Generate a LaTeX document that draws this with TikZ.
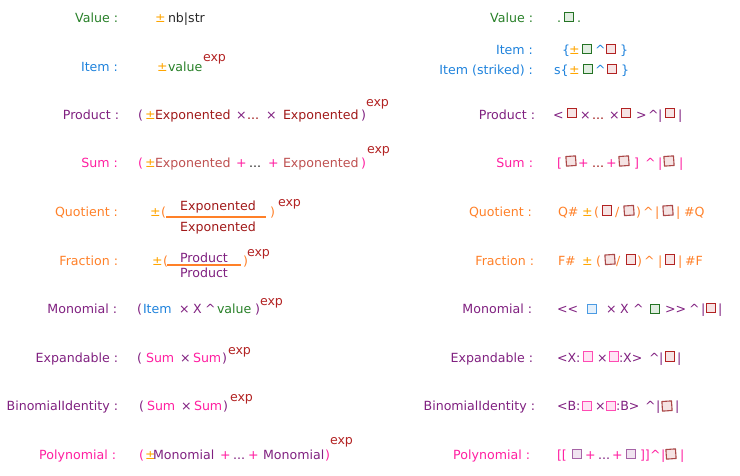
\documentclass[tikz,border=0pt]{standalone}
\usepackage{fontspec}
\setmainfont{DejaVu Sans}
\definecolor{cV}{RGB}{40,128,40}
\definecolor{cI}{RGB}{30,130,220}
\definecolor{cP}{RGB}{128,32,128}
\definecolor{cS}{RGB}{255,30,160}
\definecolor{cQ}{RGB}{255,128,40}
\definecolor{cX}{RGB}{178,34,34}
\definecolor{cE}{RGB}{160,24,24}
\definecolor{cEs}{RGB}{190,80,80}
\definecolor{cPM}{RGB}{255,165,0}
\definecolor{cN}{RGB}{40,40,40}
\newcommand\fsz{\fontsize{12.6}{14}\selectfont}
\tikzset{
 tx/.style={anchor=base west, inner sep=0pt, outer sep=0pt, font=\fsz},
 lab/.style={anchor=base east, inner sep=0pt, outer sep=0pt, font=\fsz},
 ctr/.style={anchor=base, inner sep=0pt, outer sep=0pt, font=\fsz},
 box/.style={draw, line width=1.1pt, minimum size=9.6pt, inner sep=0pt},
 bG/.style={box, draw=cV!90!black, fill=cV!14},
 bR/.style={box, draw=cX, fill=cX!12},
 bS/.style={box, draw=cEs!90!black, fill=cEs!16, rotate=4},
 bB/.style={box, draw=cI!80, fill=cI!12},
 bK/.style={box, draw=cS!80, fill=cS!12},
 bM/.style={box, draw=cP!70, fill=cP!12},
 bar/.style={cQ, line width=1.5pt},
}
\begin{document}
\begin{tikzpicture}[x=1pt,y=-1pt]
\useasboundingbox (0,0) rectangle (740,475);
% ---------------- left labels
\node[lab,text=cV] (lv) at (118,22) {Value :};
\node[lab,text=cI] (li) at (118,71) {Item :};
\node[lab,text=cP] (lp) at (119,119) {Product :};
\node[lab,text=cS] (ls) at (118,167) {Sum :};
\node[lab,text=cQ] (lq) at (118,216) {Quotient :};
\node[lab,text=cQ] (lf) at (118,265) {Fraction :};
\node[lab,text=cP] (lm) at (117,313) {Monomial :};
\node[lab,text=cP] (le) at (118,362) {Expandable :};
\node[lab,text=cP] (lb) at (118,410) {BinomialIdentity :};
\node[lab,text=cS] (ly) at (116,459) {Polynomial :};
% ---------------- left content
% Value
\node[tx,text=cPM] (v1) at (155,22) {±};
\node[tx,text=cN] (v2) at (168,22) {nb|str};
% Item
\node[tx,text=cPM] (i1) at (157,71) {±};
\node[tx,text=cV] (i2) at (168,71) {value};
\node[tx,text=cX] (i3) at (203,61) {exp};
% Product
\node[tx,text=cP] (p1) at (138,119) {(};
\node[tx,text=cPM] (p2) at (145,119) {±};
\node[tx,text=cE] (p3) at (155,119) {Exponented};
\node[tx,text=cP] (p4) at (236,119) {×};
\node[tx,text=cE] (p5) at (247,119) {...};
\node[tx,text=cP] (p6) at (266,119) {×};
\node[tx,text=cE] (p7) at (283,119) {Exponented};
\node[tx,text=cP] (p8) at (361,119) {)};
\node[tx,text=cX] (p9) at (366,106) {exp};
% Sum
\node[tx,text=cS] (s1) at (138,167) {(};
\node[tx,text=cPM] (s2) at (145,167) {±};
\node[tx,text=cEs] (s3) at (155,167) {Exponented};
\node[tx,text=cS] (s4) at (236,167) {+};
\node[tx,text=cN] (s5) at (249,167) {...};
\node[tx,text=cS] (s6) at (268,167) {+};
\node[tx,text=cEs] (s7) at (283,167) {Exponented};
\node[tx,text=cS] (s8) at (361,167) {)};
\node[tx,text=cX] (s9) at (367,153) {exp};
% Quotient
\node[tx,text=cPM] (q1) at (150,216) {±};
\node[tx,text=cQ] (q2) at (161,216) {(};
\node[ctr,text=cE] (q3) at (218,210) {Exponented};
\coordinate (qa) at (166,217);
\coordinate (qb) at (266,217);
\draw[bar] (qa) -- (qb);
\node[ctr,text=cE] (q4) at (218,231) {Exponented};
\node[tx,text=cQ] (q5) at (270,216) {)};
\node[tx,text=cX] (q6) at (278,206) {exp};
% Fraction
\node[tx,text=cPM] (f1) at (152,265) {±};
\node[tx,text=cQ] (f2) at (163,265) {(};
\node[ctr,text=cP] (f3) at (204,262) {Product};
\coordinate (fa) at (167,265);
\coordinate (fb) at (241,265);
\draw[bar] (fa) -- (fb);
\node[ctr,text=cP] (f4) at (204,277) {Product};
\node[tx,text=cQ] (f5) at (243,265) {)};
\node[tx,text=cX] (f6) at (247,256) {exp};
% Monomial
\node[tx,text=cP] (m1) at (137,313) {(};
\node[tx,text=cI] (m2) at (143,313) {Item};
\node[tx,text=cP] (m3) at (179,313) {×};
\node[tx,text=cP] (m4) at (193,313) {X};
\node[tx,text=cP] (m5) at (205,313) {\^{}};
\node[tx,text=cV] (m6) at (217,313) {value};
\node[tx,text=cP] (m7) at (255,313) {)};
\node[tx,text=cX] (m8) at (260,305) {exp};
% Expandable
\node[tx,text=cP] (e1) at (137,362) {(};
\node[tx,text=cS] (e2) at (146,362) {Sum};
\node[tx,text=cP] (e3) at (180,362) {×};
\node[tx,text=cS] (e4) at (193,362) {Sum};
\node[tx,text=cP] (e5) at (222,362) {)};
\node[tx,text=cX] (e6) at (228,354) {exp};
% BinomialIdentity
\node[tx,text=cP] (b1) at (139,410) {(};
\node[tx,text=cS] (b2) at (147,410) {Sum};
\node[tx,text=cP] (b3) at (181,410) {×};
\node[tx,text=cS] (b4) at (194,410) {Sum};
\node[tx,text=cP] (b5) at (223,410) {)};
\node[tx,text=cX] (b6) at (230,401) {exp};
% Polynomial
\node[tx,text=cS] (y1) at (139,459) {(};
\node[tx,text=cPM] (y2) at (145,459) {±};
\node[tx,text=cP] (y3) at (153,459) {Monomial};
\node[tx,text=cS] (y4) at (220,459) {+};
\node[tx,text=cP] (y5) at (233,459) {...};
\node[tx,text=cS] (y6) at (248,459) {+};
\node[tx,text=cP] (y7) at (263,459) {Monomial};
\node[tx,text=cS] (y8) at (325,459) {)};
\node[tx,text=cX] (y9) at (330,444) {exp};
% ---------------- right labels
\node[lab,text=cV] (rlv) at (533,22) {Value :};
\node[lab,text=cI] (rli) at (533,54) {Item :};
\node[lab,text=cI] (rlk) at (533,74) {Item (striked) :};
\node[lab,text=cP] (rlp) at (535,119) {Product :};
\node[lab,text=cS] (rls) at (533,167) {Sum :};
\node[lab,text=cQ] (rlq) at (532,216) {Quotient :};
\node[lab,text=cQ] (rlf) at (534,265) {Fraction :};
\node[lab,text=cP] (rlm) at (532,313) {Monomial :};
\node[lab,text=cP] (rle) at (533,362) {Expandable :};
\node[lab,text=cP] (rlb) at (535,410) {BinomialIdentity :};
\node[lab,text=cS] (rly) at (530,459) {Polynomial :};
% ---------------- right content
% Value
\node[tx,text=cV] (rv1) at (557,22) {.};
\node[bG] (rv2) at (569,17) {};
\node[tx,text=cV] (rv3) at (577,22) {.};
% Item
\node[tx,text=cI] (ri1) at (562,54) {\{};
\node[tx,text=cPM] (ri2) at (569,54) {±};
\node[bG] (ri3) at (587,49) {};
\node[tx,text=cI] (ri4) at (595,54) {\^{}};
\node[bR] (ri5) at (611,49) {};
\node[tx,text=cI] (ri6) at (620,54) {\}};
% Item striked
\node[tx,text=cI] (rk1) at (554,74) {s\{};
\node[tx,text=cPM] (rk2) at (569,74) {±};
\node[bG] (rk3) at (588,69) {};
\node[tx,text=cI] (rk4) at (595,74) {\^{}};
\node[bR] (rk5) at (612,69) {};
\node[tx,text=cI] (rk6) at (621,74) {\}};
% Product
\node[tx,text=cP] (rp1) at (553,119) {<};
\node[bR] (rp2) at (572,113) {};
\node[tx,text=cP] (rp3) at (580,119) {×};
\node[tx,text=cE] (rp4) at (592,119) {...};
\node[tx,text=cP] (rp5) at (609,119) {×};
\node[bR] (rp6) at (626,113) {};
\node[tx,text=cP] (rp7) at (636,119) {>};
\node[tx,text=cP] (rp8) at (648,119) {\^{}};
\node[tx,text=cP] (rp9) at (658,119) {|};
\node[bR] (rp10) at (670,113) {};
\node[tx,text=cP] (rp11) at (678,119) {|};
% Sum
\node[tx,text=cS] (rs1) at (557,167) {[};
\node[bS] (rs2) at (571,161) {};
\node[tx,text=cS] (rs3) at (578,167) {+};
\node[tx,text=cE] (rs4) at (592,167) {...};
\node[tx,text=cS] (rs5) at (606,167) {+};
\node[bS] (rs6) at (624,161) {};
\node[tx,text=cS] (rs7) at (634,167) {]};
\node[tx,text=cS] (rs8) at (645,167) {\^{}};
\node[tx,text=cS] (rs9) at (658,167) {|};
\node[bS] (rs10) at (669,161) {};
\node[tx,text=cS] (rs11) at (679,167) {|};
% Quotient
\node[tx,text=cQ] (rq1) at (558,216) {Q\#};
\node[tx,text=cPM] (rq2) at (582,216) {±};
\node[tx,text=cQ] (rq3) at (594,216) {(};
\node[bR] (rq4) at (607,210.5) {};
\node[tx,text=cQ] (rq5) at (615,216) {/};
\node[bS] (rq6) at (629,210.5) {};
\node[tx,text=cQ] (rq7) at (636,216) {)};
\node[tx,text=cQ] (rq8) at (643,216) {\^{}};
\node[tx,text=cQ] (rq9) at (655,216) {|};
\node[bS] (rq10) at (668,210.5) {};
\node[tx,text=cQ] (rq11) at (676,216) {|};
\node[tx,text=cQ] (rq12) at (684,216) {\#Q};
% Fraction
\node[tx,text=cQ] (rf1) at (558,265) {F\#};
\node[tx,text=cPM] (rf2) at (582,265) {±};
\node[tx,text=cQ] (rf3) at (596,265) {(};
\node[bS] (rf4) at (610,259.5) {};
\node[tx,text=cQ] (rf5) at (616,265) {/};
\node[bR] (rf6) at (631,259.5) {};
\node[tx,text=cQ] (rf7) at (637,265) {)};
\node[tx,text=cQ] (rf8) at (644,265) {\^{}};
\node[tx,text=cQ] (rf9) at (658,265) {|};
\node[bR] (rf10) at (670,259.5) {};
\node[tx,text=cQ] (rf11) at (678,265) {|};
\node[tx,text=cQ] (rf12) at (685,265) {\#F};
% Monomial
\node[tx,text=cP] (rm1) at (557,313) {<{}<};
\node[bB] (rm2) at (592,309) {};
\node[tx,text=cP] (rm3) at (606,313) {×};
\node[tx,text=cP] (rm4) at (620,313) {X};
\node[tx,text=cP] (rm5) at (633,313) {\^{}};
\node[bG] (rm6) at (655,309) {};
\node[tx,text=cP] (rm7) at (665,313) {>{}>};
\node[tx,text=cP] (rm8) at (689,313) {\^{}};
\node[tx,text=cP] (rm9) at (701,313) {|};
\node[bR] (rm10) at (711,308) {};
\node[tx,text=cP] (rm11) at (718,313) {|};
% Expandable
\node[tx,text=cP] (re1) at (557,362) {<X:};
\node[bK] (re2) at (588,356.5) {};
\node[tx,text=cP] (re3) at (597,362) {×};
\node[bK] (re4) at (614,356.5) {};
\node[tx,text=cP] (re5) at (619,362) {:X>};
\node[tx,text=cP] (re6) at (649,362) {\^{}};
\node[tx,text=cP] (re7) at (659,362) {|};
\node[bR] (re8) at (670,356.5) {};
\node[tx,text=cP] (re9) at (677,362) {|};
% BinomialIdentity
\node[tx,text=cP] (rb1) at (557,410) {<B:};
\node[bK] (rb2) at (587,406) {};
\node[tx,text=cP] (rb3) at (595,410) {×};
\node[bK] (rb4) at (611,406) {};
\node[tx,text=cP] (rb5) at (616,410) {:B>};
\node[tx,text=cP] (rb6) at (645,410) {\^{}};
\node[tx,text=cP] (rb7) at (656,410) {|};
\node[bS] (rb8) at (667,406) {};
\node[tx,text=cP] (rb9) at (675,410) {|};
% Polynomial
\node[tx,text=cS] (ry1) at (557,459) {[[};
\node[bM] (ry2) at (577,454) {};
\node[tx,text=cS] (ry3) at (585,459) {+};
\node[tx,text=cP] (ry4) at (598,459) {...};
\node[tx,text=cS] (ry5) at (612,459) {+};
\node[bM] (ry6) at (631,454) {};
\node[tx,text=cS] (ry7) at (640,459) {]]};
\node[tx,text=cS] (ry8) at (650,459) {\^{}};
\node[tx,text=cS] (ry9) at (661,459) {|};
\node[bS] (ry10) at (671,454) {};
\node[tx,text=cS] (ry11) at (680,459) {|};
\end{tikzpicture}
\end{document}
